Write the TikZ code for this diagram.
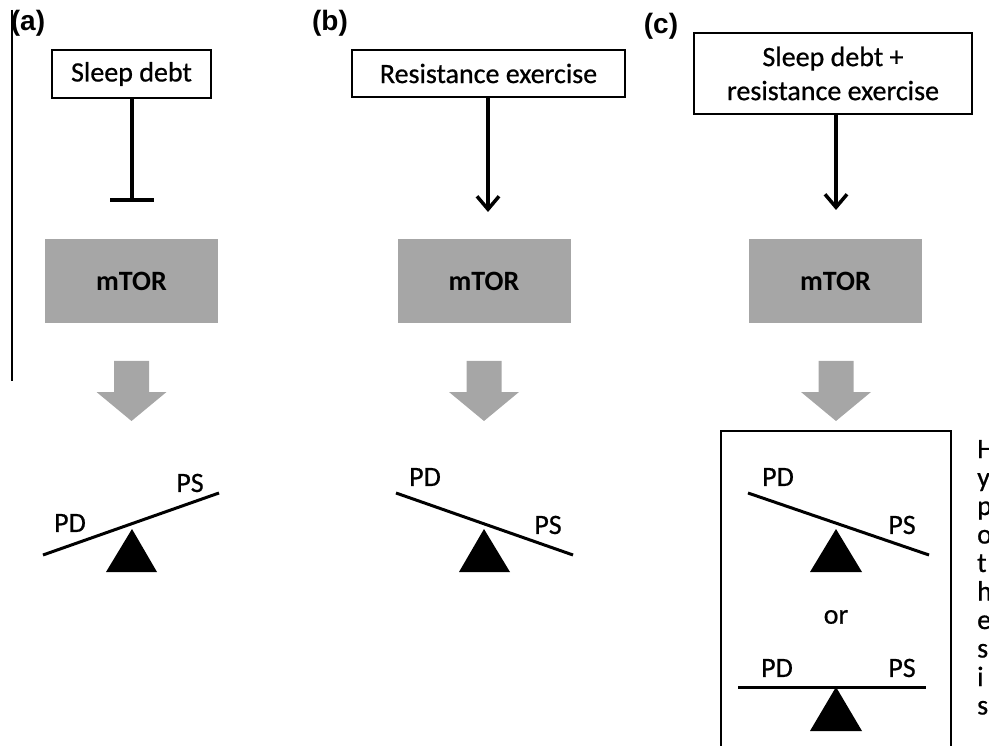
\documentclass[tikz,border=0pt]{standalone}
\usepackage{fontspec}
\setmainfont{Carlito}
\newfontfamily\boxfont{Carlito}[FakeBold=0.7]
\newfontfamily\panelfont{Liberation Sans}
\usepackage{tikz}
\usetikzlibrary{arrows.meta,positioning}

\definecolor{mtorgray}{RGB}{166,166,166}

\begin{document}
\begin{tikzpicture}[x=1pt,y=-1pt,
	panel/.style={font=\panelfont\bfseries\fontsize{28}{30}\selectfont},
	cause/.style={draw,line width=1.5pt,font=\boxfont\fontsize{28}{34}\selectfont,align=center,inner sep=0pt},
	mtor/.style={fill=mtorgray,minimum width=173pt,minimum height=84pt,inner sep=0pt,font=\bfseries\fontsize{28}{34}\selectfont},
	lab/.style={font=\boxfont\fontsize{28}{34}\selectfont,inner sep=0pt},
	beam/.style={line width=3pt},
	fat/.style={fill=mtorgray},
	act/.style={line width=3.5pt,-{Straight Barb[length=13pt,width=22pt]}},
	inh/.style={line width=4pt,-{Bar[width=44pt]}}]
	\useasboundingbox (0,0) rectangle (989,746);
	\clip (0,0) rectangle (989,746);
	% panel letters
	\draw[line width=1.5pt] (12,10) -- (12,381);
	\node[panel] (la) at (28,23) {(a)};
	\node[panel] (lb) at (330,23) {(b)};
	\node[panel] (lc) at (661,26) {(c)};
	% stimuli
	\node[cause,minimum width=159pt,minimum height=48pt] (sleep) at (131.5,74) {Sleep debt};
	\node[cause,minimum width=273pt,minimum height=47pt] (resist) at (488.5,73.5) {Resistance exercise};
	\node[cause,minimum width=278pt,minimum height=81pt] (both) at (833,73.5) {Sleep debt +\\resistance exercise};
	% mTOR
	\node[mtor] (mtorA) at (131.5,281) {mTOR};
	\node[mtor] (mtorB) at (484,281) {mTOR};
	\node[mtor] (mtorC) at (835.5,281) {mTOR};
	\coordinate (endA) at (131.5,202);
	\coordinate (endB) at (488,212);
	\coordinate (endC) at (836,210);
	\draw[inh] (sleep.south -| endA) -- (endA);
	\draw[act] (resist.south -| endB) -- (endB);
	\draw[act] (both.south -| endC) -- (endC);
	% big grey arrows
	\foreach \cx in {131.5,484,836}
		\fill[fat] (\cx-17.5,361) -- (\cx+17.5,361) -- (\cx+17.5,392) -- (\cx+35,392)
			-- (\cx,421) -- (\cx-35,392) -- (\cx-17.5,392) -- cycle;
	% balance (a)
	\draw[beam] (43,555) -- (219,493);
	\fill (132,529) -- (157,572) -- (106,572) -- cycle;
	\node[lab] (pdA) at (70,523) {PD};
	\node[lab] (psA) at (190,483) {PS};
	% balance (b)
	\draw[beam] (396,493) -- (573,555);
	\fill (484,529) -- (510,572) -- (459,572) -- cycle;
	\node[lab] (pdB) at (425,477) {PD};
	\node[lab] (psB) at (548,525) {PS};
	% balance (c)
	\draw[line width=2.5pt] (721,431) rectangle (951,770);
	\draw[beam] (748,493) -- (929,555);
	\fill (836,529) -- (862,572) -- (810,572) -- cycle;
	\node[lab] (pdC) at (778,477) {PD};
	\node[lab] (psC) at (902,525) {PS};
	\node[lab] (or) at (836,617) {or};
	\draw[beam] (738,687) -- (926,687);
	\fill (836,687) -- (862,731) -- (810,731) -- cycle;
	\node[lab] (pdD) at (777,668) {PD};
	\node[lab] (psD) at (902,668) {PS};
	% cut-off caption
	\foreach \ch [count=\i from 0] in {H,y,p,o,t,h,e,s,i,s}
		\node[lab,anchor=base west] (cap\i) at (977,458+28.5*\i) {\ch};
\end{tikzpicture}
\end{document}
